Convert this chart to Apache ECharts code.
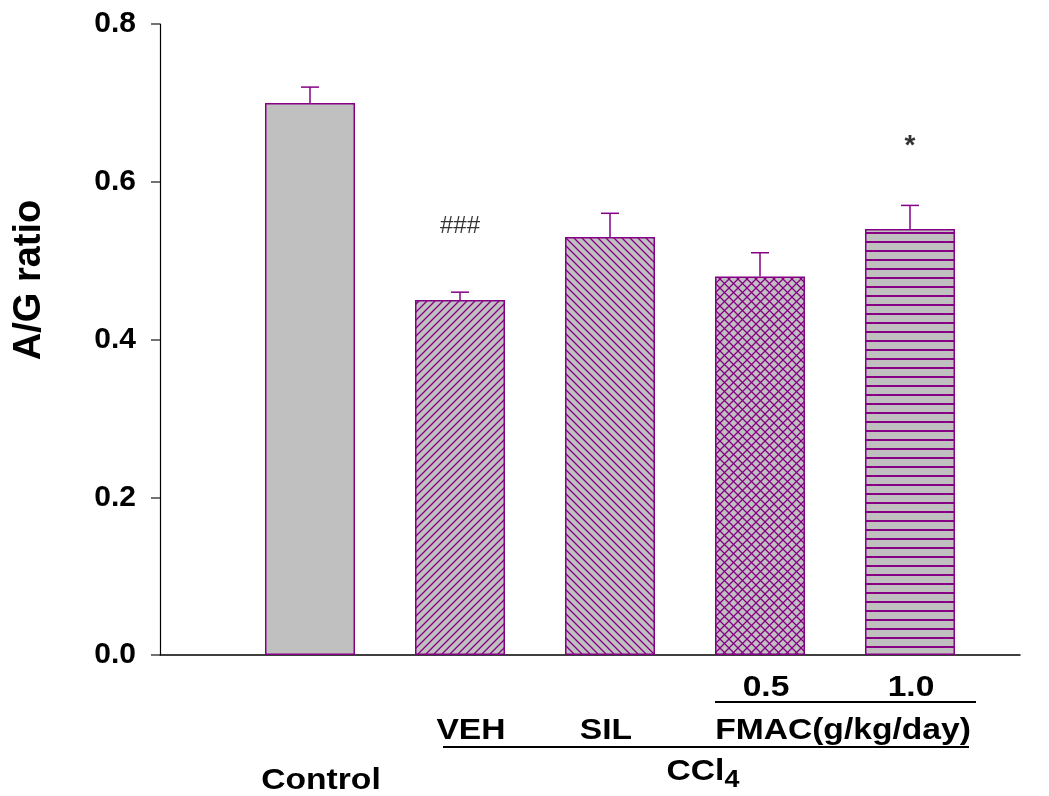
<!DOCTYPE html>
<html>
<head>
<meta charset="utf-8">
<script src="https://cdn.jsdelivr.net/npm/echarts@6/dist/echarts.min.js"></script>
<style>
  html, body { margin: 0; padding: 0; background: #fff; }
  #main { width: 1049px; height: 796px; }
</style>
</head>
<body>
<div id="main"></div>
<script>
// group positions on the x value axis, and values
var groups = ['Control', 'VEH', 'SIL', '0.5', '1.0'];
var positions = [1, 2, 3, 4, 5];
var means = [0.70, 0.45, 0.53, 0.48, 0.54];
var upper = [0.72, 0.46, 0.56, 0.51, 0.57];
// significance marks: [x, y, text]
var marks = [[2, 0.544, '###'], [5, 0.645, '*']];

var purple = '#850085';
var gray = '#c0c0c0';

function tile(size, draw) {
  var c = document.createElement('canvas');
  c.width = size; c.height = size;
  var g = c.getContext('2d');
  g.fillStyle = gray;
  g.fillRect(0, 0, size, size);
  g.strokeStyle = purple;
  g.lineWidth = 1.3;
  draw(g, size);
  return { image: c, repeat: 'repeat' };
}
function fwd(g, s) {
  g.beginPath();
  g.moveTo(-1, 1); g.lineTo(1, -1);
  g.moveTo(0, s); g.lineTo(s, 0);
  g.moveTo(s - 1, s + 1); g.lineTo(s + 1, s - 1);
  g.stroke();
}
function back(g, s) {
  g.beginPath();
  g.moveTo(-1, s - 1); g.lineTo(1, s + 1);
  g.moveTo(0, 0); g.lineTo(s, s);
  g.moveTo(s - 1, -1); g.lineTo(s + 1, 1);
  g.stroke();
}
var fills = [
  gray,
  tile(8, fwd),
  tile(8, back),
  tile(9, function (g, s) { fwd(g, s); back(g, s); }),
  tile(9, function (g, s) {
    g.lineWidth = 2;
    g.beginPath(); g.moveTo(0, 8); g.lineTo(s, 8); g.stroke();
  })
];

var barData = positions.map(function (p, i) {
  return {
    value: [p, means[i]],
    itemStyle: { color: fills[i], borderColor: purple, borderWidth: 1.5 }
  };
});
var errData = positions.map(function (p, i) { return [p, means[i], upper[i]]; });

var chart = echarts.init(document.getElementById('main'));
var option = {
  animation: false,
  grid: { left: 160, right: 29, top: 24, bottom: 141 },
  xAxis: {
    type: 'value',
    min: 0,
    max: 860 / 150,
    splitLine: { show: false },
    axisTick: { show: false },
    axisLabel: { show: false },
    axisLine: { show: true, onZero: false, lineStyle: { color: '#000', width: 1.5 } }
  },
  yAxis: {
    type: 'value',
    min: 0,
    max: 0.8,
    interval: 0.2,
    splitLine: { show: false },
    axisLine: { show: true, lineStyle: { color: '#000', width: 1.2 } },
    axisTick: { show: true, length: 9, lineStyle: { color: '#444', width: 1.5 } },
    axisLabel: {
      margin: 24,
      fontFamily: 'Liberation Sans', fontWeight: 'bold', fontSize: 30, color: '#000',
      formatter: function (v) { return v.toFixed(1); }
    }
  },
  series: [
    {
      type: 'bar',
      barWidth: 90,
      data: barData
    },
    {
      type: 'custom',
      z: 3,
      data: errData,
      renderItem: function (params, api) {
        var base = api.coord([api.value(0), api.value(1)]);
        var top = api.coord([api.value(0), api.value(2)]);
        var style = { stroke: purple, lineWidth: 1.5 };
        return {
          type: 'group',
          children: [
            { type: 'line', shape: { x1: base[0], y1: base[1], x2: top[0], y2: top[1] }, style: style },
            { type: 'line', shape: { x1: top[0] - 9, y1: top[1], x2: top[0] + 9, y2: top[1] }, style: style }
          ]
        };
      }
    },
    {
      type: 'scatter',
      symbolSize: 0,
      data: [
        { value: [marks[0][0], marks[0][1]], name: marks[0][2], label: { fontSize: 24, fontWeight: 'normal' } },
        { value: [marks[1][0], marks[1][1]], name: marks[1][2], label: { fontSize: 28, fontWeight: 'bold' } }
      ],
      label: {
        show: true,
        position: 'inside',
        formatter: '{b}',
        color: '#000',
        fontFamily: 'Liberation Sans'
      }
    }
  ]
};
chart.setOption(option);

// group labels below the axis, placed from the x scale
function px(v) { return chart.convertToPixel({ gridIndex: 0 }, [v, 0])[0]; }
var lab = { fontFamily: 'Liberation Sans', fontWeight: 'bold', fontSize: 30, fill: '#000', align: 'center', verticalAlign: 'middle' };
function txt(x, y, s) {
  return { type: 'text', x: x, y: y, scaleX: 1.12, style: Object.assign({ text: s }, lab) };
}
function hline(x1, x2, y) {
  return { type: 'line', shape: { x1: x1, y1: y, x2: x2, y2: y }, style: { stroke: '#000', lineWidth: 2 } };
}
chart.setOption({
  graphic: [
    {
      type: 'text', x: 30, y: 280, rotation: Math.PI / 2,
      style: { text: 'A/G ratio', fontFamily: 'Liberation Sans', fontWeight: 'bold', fontSize: 38, fill: '#000', align: 'center', verticalAlign: 'middle' }
    },
    txt(px(4) + 6, 688, groups[3]),
    txt(px(5) + 1, 688, groups[4]),
    hline(px(4) - 45, px(5) + 66, 702),
    txt(px(2) + 11, 731, groups[1]),
    txt(px(3) - 4, 731, groups[2]),
    txt(px(4.5) + 8, 731, 'FMAC(g/kg/day)'),
    hline(px(2) - 17, px(5) + 59, 747),
    txt(px(1) + 11, 781, groups[0]),
    {
      type: 'text', x: px(3.62), y: 772, scaleX: 1.12,
      style: {
        text: '{a|CCl}{b|4}',
        align: 'center', verticalAlign: 'middle',
        rich: {
          a: { fontFamily: 'Liberation Sans', fontWeight: 'bold', fontSize: 30, fill: '#000' },
          b: { fontFamily: 'Liberation Sans', fontWeight: 'bold', fontSize: 24, fill: '#000', padding: [16, 0, 0, 0] }
        }
      }
    }
  ]
});
</script>
</body>
</html>
